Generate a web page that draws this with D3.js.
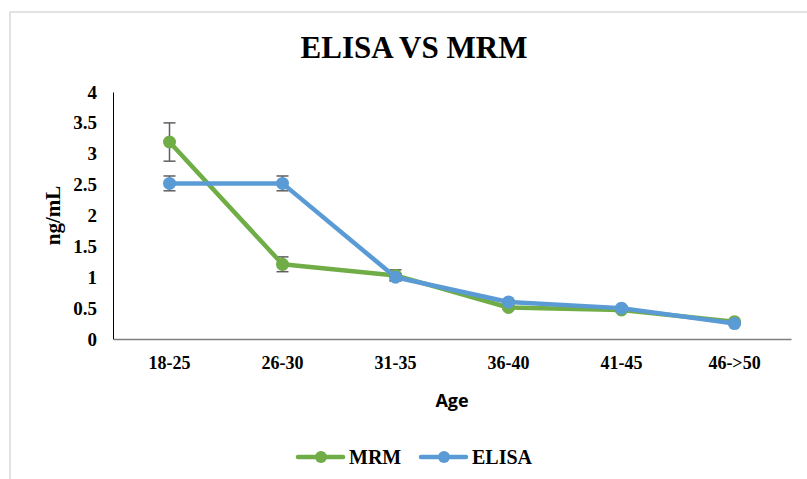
<!DOCTYPE html>
<html>
<head>
<meta charset="utf-8">
<script src="https://cdn.jsdelivr.net/npm/d3@7"></script>
<style>
  body { margin: 0; background: white; }
  svg text { fill: black; }
</style>
</head>
<body>
<div id="chart"></div>
<script>
var categories = ["18-25", "26-30", "31-35", "36-40", "41-45", "46->50"];
var mrm = [3.19, 1.21, 1.03, 0.51, 0.47, 0.28];
var mrm_err = [0.31, 0.12, 0.09, 0.03, 0.03, 0.02];
var elisa = [2.52, 2.52, 1.0, 0.60, 0.50, 0.25];
var elisa_err = [0.12, 0.12, 0.05, 0.03, 0.03, 0.02];
var yticks = [0, 0.5, 1, 1.5, 2, 2.5, 3, 3.5, 4];

var width = 807, height = 479;
var margin = { left: 113, right: 16, top: 92, bottom: 140 };
var serif = "Liberation Serif, Times New Roman, serif";

var svg = d3.select("#chart").append("svg")
  .attr("width", width)
  .attr("height", height);

// chart frame
svg.append("rect")
  .attr("x", 10).attr("y", 12)
  .attr("width", 820).attr("height", 490)
  .attr("fill", "white")
  .attr("stroke", "#d9d9d9")
  .attr("stroke-width", 1.5);

var xscale = d3.scaleBand()
  .domain(categories)
  .range([margin.left, width - margin.right]);

var yscale = d3.scaleLinear()
  .domain([0, 4])
  .range([height - margin.bottom, margin.top]);

var cx = function (i) { return xscale(categories[i]) + xscale.bandwidth() / 2; };

// title
svg.append("text")
  .attr("x", 414).attr("y", 58)
  .attr("text-anchor", "middle")
  .style("font-family", serif)
  .style("font-weight", "bold")
  .style("font-size", "31px")
  .text("ELISA VS MRM");

// y axis
var yAxis = svg.append("g")
  .attr("transform", "translate(" + margin.left + ",0)")
  .call(d3.axisLeft(yscale).tickValues(yticks).tickSize(0).tickPadding(16).tickFormat(d3.format("")));
yAxis.select(".domain").attr("stroke", "#000").attr("stroke-width", 1);
yAxis.selectAll("text")
  .style("font-family", serif)
  .style("font-weight", "bold")
  .style("font-size", "19px");

// x axis
var xAxis = svg.append("g")
  .attr("transform", "translate(0," + yscale(0) + ")")
  .call(d3.axisBottom(xscale).tickSize(0).tickPadding(17));
xAxis.select(".domain").attr("stroke", "#7f7f7f").attr("stroke-width", 1.5);
xAxis.selectAll("text")
  .style("font-family", serif)
  .style("font-weight", "bold")
  .style("font-size", "18px");

// axis titles
svg.append("text")
  .attr("transform", "translate(60," + yscale(2) + ") rotate(-90)")
  .attr("text-anchor", "middle")
  .style("font-family", serif)
  .style("font-weight", "bold")
  .style("font-size", "21px")
  .text("ng/mL");

svg.append("text")
  .attr("x", (margin.left + width - margin.right) / 2)
  .attr("y", 407)
  .attr("text-anchor", "middle")
  .style("font-family", "Open Sans, Liberation Sans, sans-serif")
  .style("font-weight", "bold")
  .style("font-size", "18px")
  .text("Age");

function drawSeries(values, errs, color) {
  var g = svg.append("g");
  // error bars
  values.forEach(function (v, i) {
    var x = cx(i);
    g.append("line")
      .attr("x1", x).attr("x2", x)
      .attr("y1", yscale(v - errs[i])).attr("y2", yscale(v + errs[i]))
      .attr("stroke", "#5f5f5f").attr("stroke-width", 1.5);
    [v - errs[i], v + errs[i]].forEach(function (e) {
      g.append("line")
        .attr("x1", x - 6).attr("x2", x + 6)
        .attr("y1", yscale(e)).attr("y2", yscale(e))
        .attr("stroke", "#5f5f5f").attr("stroke-width", 1.5);
    });
  });
  g.append("path")
    .datum(values)
    .attr("fill", "none")
    .attr("stroke", color)
    .attr("stroke-width", 4.5)
    .attr("stroke-linejoin", "round")
    .attr("d", d3.line()
      .x(function (d, i) { return cx(i); })
      .y(function (d) { return yscale(d); }));
  g.selectAll("circle")
    .data(values)
    .enter().append("circle")
    .attr("cx", function (d, i) { return cx(i); })
    .attr("cy", function (d) { return yscale(d); })
    .attr("r", 6.5)
    .attr("fill", color);
}

drawSeries(mrm, mrm_err, "#70ad47");
drawSeries(elisa, elisa_err, "#5b9bd5");

// legend
var legend = [
  { name: "MRM", color: "#70ad47", x: 298 },
  { name: "ELISA", color: "#5b9bd5", x: 421 }
];
legend.forEach(function (l) {
  svg.append("line")
    .attr("x1", l.x).attr("x2", l.x + 45)
    .attr("y1", 457).attr("y2", 457)
    .attr("stroke", l.color).attr("stroke-width", 4.5)
    .attr("stroke-linecap", "round");
  svg.append("circle")
    .attr("cx", l.x + 23).attr("cy", 457).attr("r", 6)
    .attr("fill", l.color);
  svg.append("text")
    .attr("x", l.x + 51).attr("y", 464)
    .style("font-family", serif)
    .style("font-weight", "bold")
    .style("font-size", "20px")
    .text(l.name);
});
</script>
</body>
</html>
